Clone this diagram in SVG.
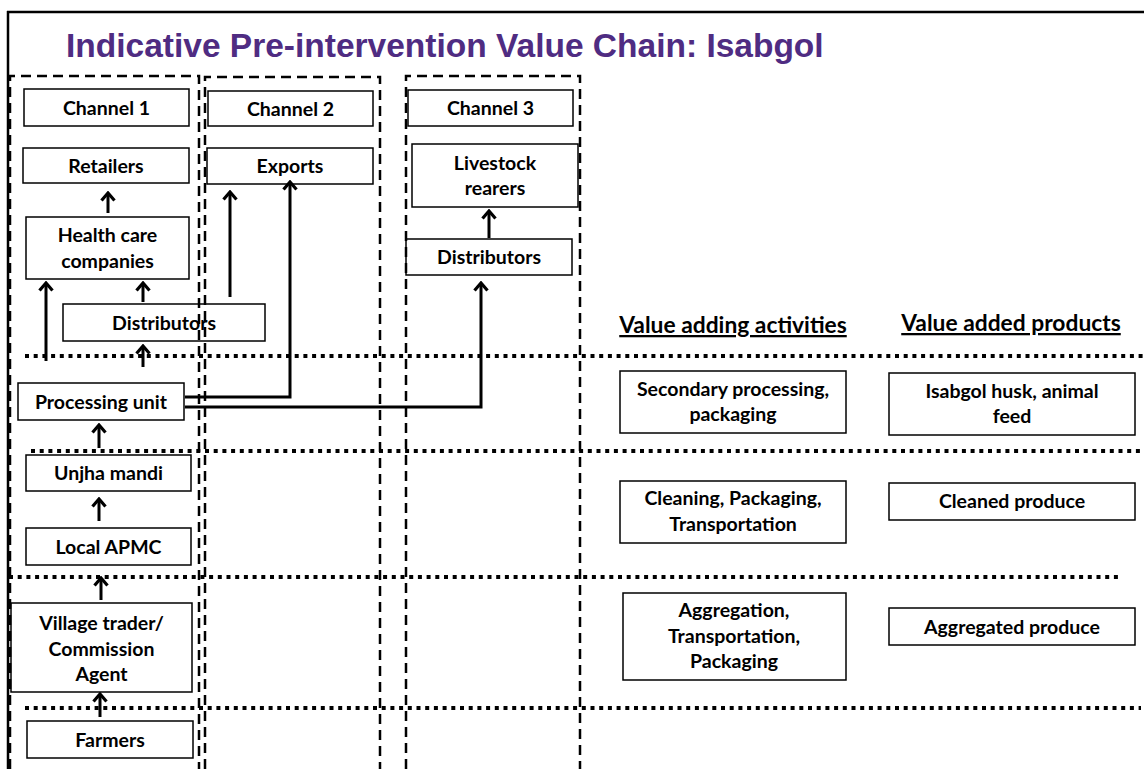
<svg xmlns="http://www.w3.org/2000/svg" width="1144" height="769" viewBox="0 0 1144 769">
  <style>
    .title { font-family: "Liberation Sans", Arial, sans-serif; font-weight: bold; font-size: 33.5px; fill: #4F2C82; }
    .box { fill: #ffffff; stroke: #000000; stroke-width: 1.5; }
    .lbl { font-family: Lato, "Liberation Sans", sans-serif; font-weight: bold; font-size: 19.5px; fill: #000000; text-anchor: middle; }
    .head { font-family: Lato, "Liberation Sans", sans-serif; font-weight: bold; font-size: 22.8px; fill: #000000; text-anchor: middle; text-decoration: underline; }
    .chan { fill: none; stroke: #000000; stroke-width: 2.5; stroke-dasharray: 10 6; }
    .tier { fill: none; stroke: #000000; stroke-width: 4; stroke-dasharray: 4 4.7; }
    .arrow { fill: none; stroke: #000000; stroke-width: 3; marker-end: url(#chev); }
  </style>
  <defs>
    <marker id="chev" markerUnits="userSpaceOnUse" viewBox="-10 -8 12 16" refX="0" refY="0" markerWidth="12" markerHeight="16" orient="auto">
      <path d="M-7.5,-6.5 L0,0 L-7.5,6.5" fill="none" stroke="#000000" stroke-width="3.2" stroke-linejoin="miter"/>
    </marker>
  </defs>

  <rect width="1144" height="769" fill="#ffffff"/>

  <!-- frame -->
  <g id="frame">
    <line x1="7" y1="12" x2="1144" y2="12" stroke="#000000" stroke-width="2.5"/>
    <line x1="8" y1="11" x2="8" y2="769" stroke="#000000" stroke-width="2.5"/>
  </g>

  <text class="title" x="66" y="57">Indicative Pre-intervention Value Chain: Isabgol</text>

  <!-- tier separators -->
  <g id="tiers">
    <line class="tier" x1="25" y1="356" x2="1144" y2="356"/>
    <line class="tier" x1="31" y1="451" x2="1144" y2="451"/>
    <line class="tier" x1="9" y1="577" x2="1121" y2="577"/>
    <line class="tier" x1="25" y1="708" x2="1141" y2="708"/>
  </g>

  <!-- column headings -->
  <text class="head" x="733" y="333">Value adding activities</text>
  <text class="head" x="1011" y="331">Value added products</text>

  <!-- nodes -->
  <g id="channel1"><rect class="box" x="24" y="89" width="165" height="37"/><text class="lbl" x="106.5" y="114.5">Channel 1</text></g>
  <g id="channel2"><rect class="box" x="208" y="91" width="165" height="35"/><text class="lbl" x="290.5" y="115.5">Channel 2</text></g>
  <g id="channel3"><rect class="box" x="408" y="90" width="165" height="36"/><text class="lbl" x="490.5" y="115">Channel 3</text></g>
  <g id="retailers"><rect class="box" x="23" y="148" width="166" height="35"/><text class="lbl" x="106" y="172.5">Retailers</text></g>
  <g id="exports"><rect class="box" x="207" y="148" width="166" height="36"/><text class="lbl" x="290" y="173">Exports</text></g>
  <g id="livestock"><rect class="box" x="412" y="144" width="166" height="63"/><text class="lbl" x="495" y="169.5">Livestock</text><text class="lbl" x="495" y="194.5">rearers</text></g>
  <g id="healthcare"><rect class="box" x="26" y="217" width="163" height="62"/><text class="lbl" x="107.5" y="241.5">Health care</text><text class="lbl" x="107.5" y="267.5">companies</text></g>
  <g id="distributors1"><rect class="box" x="63" y="304" width="202" height="37"/><text class="lbl" x="164" y="329.5">Distributors</text></g>
  <g id="distributors3"><rect class="box" x="406" y="239" width="166" height="36"/><text class="lbl" x="489" y="264">Distributors</text></g>
  <g id="processing"><rect class="box" x="18" y="383" width="166" height="37"/><text class="lbl" x="101" y="408.5">Processing unit</text></g>
  <g id="unjha"><rect class="box" x="26" y="455" width="165" height="36"/><text class="lbl" x="108.5" y="480">Unjha mandi</text></g>
  <g id="apmc"><rect class="box" x="26" y="528" width="165" height="37"/><text class="lbl" x="108.5" y="553.5">Local APMC</text></g>
  <g id="trader"><rect class="box" x="11" y="603" width="181" height="89"/><text class="lbl" x="101.5" y="629.5">Village trader/</text><text class="lbl" x="101.5" y="655.5">Commission</text><text class="lbl" x="101.5" y="680.5">Agent</text></g>
  <g id="farmers"><rect class="box" x="27" y="721" width="166" height="37"/><text class="lbl" x="110" y="746.5">Farmers</text></g>

  <g id="act-secondary"><rect class="box" x="620" y="371" width="226" height="62"/><text class="lbl" x="733" y="395.5">Secondary processing,</text><text class="lbl" x="733" y="420.5">packaging</text></g>
  <g id="prod-husk"><rect class="box" x="889" y="373" width="246" height="62"/><text class="lbl" x="1012" y="397.5">Isabgol husk, animal</text><text class="lbl" x="1012" y="422.5">feed</text></g>
  <g id="act-cleaning"><rect class="box" x="620" y="481" width="226" height="62"/><text class="lbl" x="733" y="504.5">Cleaning, Packaging,</text><text class="lbl" x="733" y="530.5">Transportation</text></g>
  <g id="prod-cleaned"><rect class="box" x="889" y="483" width="246" height="37"/><text class="lbl" x="1012" y="508">Cleaned produce</text></g>
  <g id="act-aggregation"><rect class="box" x="623" y="593" width="223" height="87"/><text class="lbl" x="734" y="616.5">Aggregation,</text><text class="lbl" x="734" y="642.5">Transportation,</text><text class="lbl" x="734" y="667.5">Packaging</text></g>
  <g id="prod-aggregated"><rect class="box" x="889" y="608" width="246" height="37"/><text class="lbl" x="1012" y="633.5">Aggregated produce</text></g>

  <!-- channel columns, drawn over the boxes they cross -->
  <g id="channels">
    <polyline class="chan" points="10,769 10,76 199,76 199,769"/>
    <polyline class="chan" points="205,769 205,77 380,77 380,769"/>
    <polyline class="chan" points="406,769 406,76 580,76 580,769"/>
  </g>

  <!-- connectors -->
  <g id="connectors">
    <line class="arrow" x1="108" y1="213" x2="108" y2="193"/>
    <line class="arrow" x1="46" y1="361" x2="46" y2="283"/>
    <line class="arrow" x1="143" y1="302" x2="143" y2="283"/>
    <line class="arrow" x1="230" y1="297" x2="230" y2="192"/>
    <polyline class="arrow" points="185,397 290,397 290,182"/>
    <polyline class="arrow" points="185,407 481,407 481,283"/>
    <line class="arrow" x1="143" y1="367" x2="143" y2="346"/>
    <line class="arrow" x1="99" y1="448" x2="99" y2="425"/>
    <line class="arrow" x1="99" y1="521" x2="99" y2="499"/>
    <line class="arrow" x1="101" y1="600" x2="101" y2="578"/>
    <line class="arrow" x1="100" y1="717" x2="100" y2="694"/>
    <line class="arrow" x1="489" y1="238" x2="489" y2="211"/>
  </g>
</svg>
